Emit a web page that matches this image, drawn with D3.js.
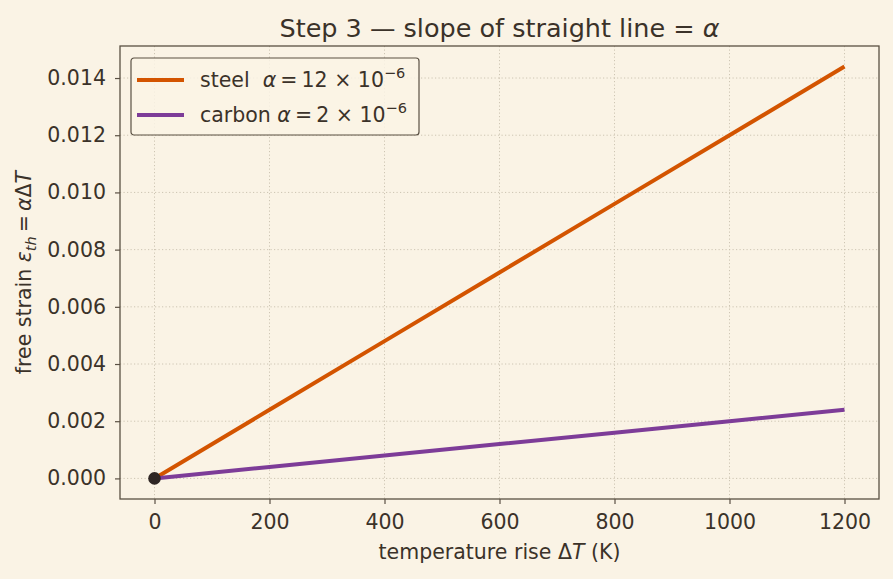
<!DOCTYPE html>
<html>
<head>
<meta charset="utf-8">
<script src="https://cdn.jsdelivr.net/npm/d3@7"></script>
<style>
  body { margin:0; background:#faf3e5; }
  svg text { font-family:"DejaVu Sans", sans-serif; }
</style>
</head>
<body>
<svg id="chart"></svg>
<script>
// data
var temps = [0, 200, 400, 600, 800, 1000, 1200]
var steelStrain = [0, 0.0024, 0.0048, 0.0072, 0.0096, 0.012, 0.0144]
var carbonStrain = [0, 0.0004, 0.0008, 0.0012, 0.0016, 0.002, 0.0024]
var xTicks = [0, 200, 400, 600, 800, 1000, 1200]
var yTicks = [0, 0.002, 0.004, 0.006, 0.008, 0.010, 0.012, 0.014]

var screen = {width:893, height:579}
var margins = {left:120, right:14, top:46, bottom:80}
var graph = {
    width:screen.width - margins.left - margins.right,
    height:screen.height - margins.top - margins.bottom
}
var ink = "#3b3229"
var spine = "#5a5043"
var font = "DejaVu Sans"
var textSize = "20.5px"

var svg = d3.select("#chart")
    .attr("width", screen.width)
    .attr("height", screen.height)

svg.append("rect")
    .attr("width", screen.width)
    .attr("height", screen.height)
    .attr("fill", "#faf3e5")

var xScale = d3.scaleLinear().domain([-60, 1260]).range([0, graph.width])
var yScale = d3.scaleLinear().domain([-0.00072, 0.01512]).range([graph.height, 0])

var target = svg.append("g")
    .attr("transform", "translate(" + margins.left + "," + margins.top + ")")

// grid
var gridStyle = function(sel) {
    sel.attr("stroke", "#c8bfad").attr("stroke-width", 0.9).attr("stroke-dasharray", "1.2,2.3")
}
target.append("g")
    .selectAll("line").data(xTicks).enter().append("line")
    .attr("x1", function(d){ return xScale(d) }).attr("x2", function(d){ return xScale(d) })
    .attr("y1", 0).attr("y2", graph.height)
    .call(gridStyle)
target.append("g")
    .selectAll("line").data(yTicks).enter().append("line")
    .attr("y1", function(d){ return yScale(d) }).attr("y2", function(d){ return yScale(d) })
    .attr("x1", 0).attr("x2", graph.width)
    .call(gridStyle)

// axes
var xAxis = d3.axisBottom(xScale).tickValues(xTicks).tickFormat(d3.format("d")).tickSize(5).tickPadding(10)
var yAxis = d3.axisLeft(yScale).tickValues(yTicks).tickFormat(d3.format(".3f")).tickSize(5).tickPadding(9)
var gx = target.append("g").attr("transform", "translate(0," + graph.height + ")").call(xAxis)
var gy = target.append("g").call(yAxis)
gx.select(".domain").remove()
gy.select(".domain").remove()
svg.selectAll(".tick line").attr("stroke", spine).attr("stroke-width", 1.2)
svg.selectAll(".tick text")
    .attr("fill", ink)
    .attr("font-family", font)
    .attr("font-size", textSize)

target.append("rect")
    .attr("width", graph.width).attr("height", graph.height)
    .attr("fill", "none").attr("stroke", spine).attr("stroke-width", 1.3)

// lines
var line = d3.line()
    .x(function(d){ return xScale(d[0]) })
    .y(function(d){ return yScale(d[1]) })
var series = [
    {name:"steel", color:"#d35400", values:d3.zip(temps, steelStrain)},
    {name:"carbon", color:"#7d3c98", values:d3.zip(temps, carbonStrain)}
]
target.selectAll(".series").data(series).enter().append("path")
    .attr("class", "series")
    .attr("d", function(d){ return line(d.values) })
    .attr("fill", "none")
    .attr("stroke", function(d){ return d.color })
    .attr("stroke-width", 4)

target.append("circle")
    .attr("cx", xScale(temps[0])).attr("cy", yScale(steelStrain[0]))
    .attr("r", 6.3).attr("fill", "#2e2624")

// legend
var legend = target.append("g").attr("transform", "translate(11,12)")
legend.append("rect")
    .attr("width", 288).attr("height", 77).attr("rx", 3)
    .attr("fill", "#faf3e5").attr("fill-opacity", 0.85)
    .attr("stroke", spine).attr("stroke-width", 1.2)
var rows = [
    {color:series[0].color, label:"steel\u00a0\u00a0", num:"12"},
    {color:series[1].color, label:"carbon ", num:"2"}
]
rows.forEach(function(r, i){
    var y = 22 + i * 35
    legend.append("line").attr("x1", 6).attr("x2", 53).attr("y1", y).attr("y2", y)
        .attr("stroke", r.color).attr("stroke-width", 4)
    var t = legend.append("text").attr("x", 69).attr("y", y + 7)
        .attr("fill", ink).attr("font-family", font).attr("font-size", textSize)
    t.append("tspan").text(r.label)
    t.append("tspan").attr("font-style", "italic").text("\u03b1")
    t.append("tspan").text("\u2009=\u2009" + r.num + " \u00d7 10")
    t.append("tspan").attr("dy", -9).attr("font-size", "14.5px").text("\u22126")
})

// labels
svg.append("text")
    .attr("x", margins.left + graph.width / 2).attr("y", 37)
    .attr("text-anchor", "middle").attr("fill", ink)
    .attr("font-family", font).attr("font-size", "25.5px")
    .html('Step 3 \u2014 slope of straight line = <tspan font-style="italic">\u03b1</tspan>')

svg.append("text")
    .attr("x", margins.left + graph.width / 2).attr("y", 559)
    .attr("text-anchor", "middle").attr("fill", ink)
    .attr("font-family", font).attr("font-size", textSize)
    .html('temperature rise \u0394<tspan font-style="italic">T</tspan> (K)')

svg.append("text")
    .attr("transform", "translate(31," + (margins.top + graph.height / 2) + ") rotate(-90)")
    .attr("text-anchor", "middle").attr("fill", ink)
    .attr("font-family", font).attr("font-size", textSize)
    .html('free strain <tspan font-style="italic">\u03b5</tspan><tspan font-style="italic" font-size="14.5px" dy="5">th</tspan><tspan dy="-5">\u2009=\u2009</tspan><tspan font-style="italic">\u03b1</tspan>\u0394<tspan font-style="italic">T</tspan>')
</script>
</body>
</html>
